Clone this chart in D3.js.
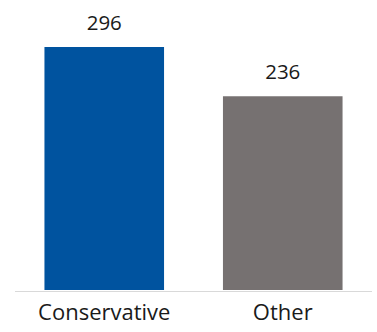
<!DOCTYPE html>
<html><head><meta charset="utf-8">
<script src="https://cdn.jsdelivr.net/npm/d3@7"></script>
<style>html,body{margin:0;padding:0;background:#fff;}svg{display:block;font-family:"Open Sans",sans-serif;}</style>
</head><body><svg id="c" width="377" height="332"></svg>
<script>
const categories = ["Conservative", "Other"];
const values = [296, 236];
const colors = ["#00539F", "#767171"];

const svg = d3.select("#c");
const x = d3.scaleBand().domain(categories).range([15, 372]).paddingInner(0.33).paddingOuter(0.165);
const y = d3.scaleLinear().domain([0, 296]).range([290, 47]);

svg.selectAll("rect.bar").data(categories).join("rect")
  .attr("class","bar")
  .attr("x", d => x(d)).attr("width", x.bandwidth())
  .attr("y", (d,i) => y(values[i])).attr("height", (d,i) => y(0) - y(values[i]))
  .attr("fill", (d,i) => colors[i]);

svg.append("line").attr("x1",15).attr("x2",372).attr("y1",291.5).attr("y2",291.5)
  .attr("stroke","#d9d9d9").attr("stroke-width",1);

svg.selectAll("text.val").data(categories).join("text")
  .attr("class","val")
  .attr("x", d => x(d) + x.bandwidth()/2)
  .attr("y", (d,i) => y(values[i]) - 17)
  .attr("text-anchor","middle").attr("font-size",20.5).attr("fill","#1a1a1a")
  .text((d,i) => values[i]);

const xAxis = d3.axisBottom(x).tickSize(0).tickPadding(0);
const g = svg.append("g").attr("transform","translate(0,300)").call(xAxis);
g.select(".domain").remove();
g.selectAll("text").attr("font-size",22).attr("fill","#1a1a1a").attr("font-family","Open Sans, sans-serif")
  .attr("dy",null).attr("y",20);
</script></body></html>
